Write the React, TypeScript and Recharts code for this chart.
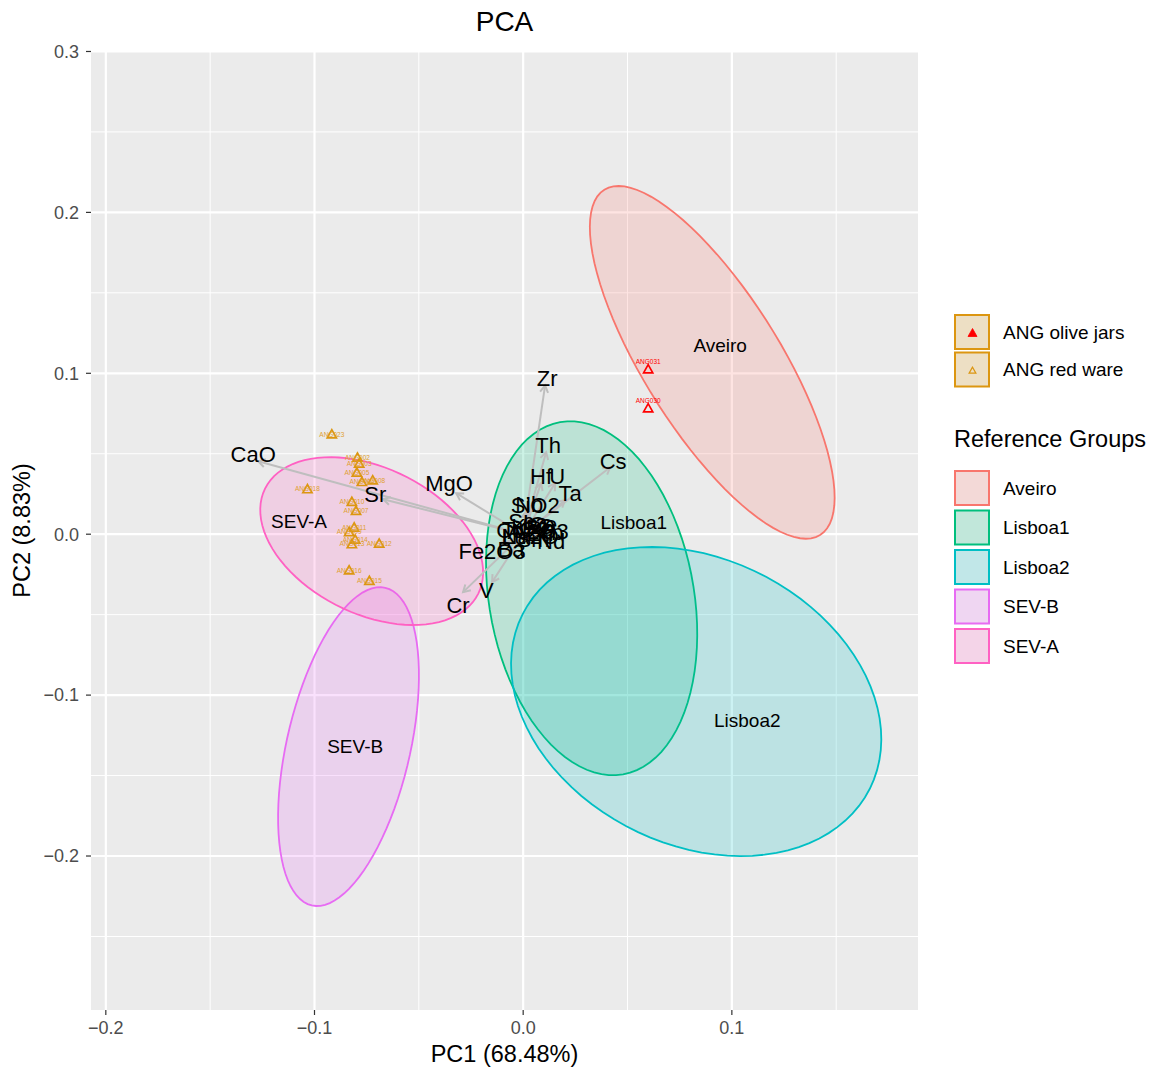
import React from "react";
import { ScatterChart, Scatter, XAxis, YAxis, CartesianGrid } from "recharts";

const FONT = '"Liberation Sans", Arial, Helvetica, sans-serif';

/* ── Axes ───────────────────────────────────────────── */

const xTicks = [-0.2, -0.1, 0, 0.1];
const yTicks = [-0.2, -0.1, 0, 0.1, 0.2, 0.3];
const xMinor = [-0.15, -0.05, 0.05, 0.15];
const yMinor = [-0.25, -0.15, -0.05, 0.05, 0.15, 0.25];
const xDomain = [-0.2071, 0.1892];
const yDomain = [-0.2957, 0.3003];

/* ── Reference groups: ellipse centre + two conjugate semi-axes (data units) ── */

const groupNames = ["Aveiro", "Lisboa1", "Lisboa2", "SEV-B", "SEV-A"];
const groupColors = ["#F8766D", "#00BF7D", "#00BFC4", "#E76BF3", "#FF61C3"];
const ellCx = [0.0906, 0.0328, 0.0829, -0.0837, -0.0726];
const ellCy = [0.1068, -0.0398, -0.104, -0.132, -0.0043];
const ellUx = [0.0517, 0.0151, 0.0832, -0.0176, 0.0511];
const ellUy = [-0.1073, -0.1094, -0.0542, -0.0987, -0.0326];
const ellVx = [-0.0277, -0.0483, -0.0308, -0.0288, -0.0155];
const ellVy = [-0.0224, -0.0111, -0.0793, 0.0086, -0.0407];
const groupLabelX = [0.0944, 0.053, 0.1074, -0.0805, -0.1074];
const groupLabelY = [0.1174, 0.0075, -0.1155, -0.1317, 0.0081];

/* ── Variable loadings (arrow tips) and their label positions ── */

const varNames = [
  "CaO", "Sr", "MgO", "Zr", "Th", "Hf", "U", "Ta", "Cs", "SiO2", "Nb",
  "TiO2", "Al2O3", "K2O", "Na2O", "Rb", "La", "Ce", "Nd", "Sm", "Yb",
  "Lu", "Eu", "Sc", "Co", "Fe2O3", "Ba", "Cr", "V",
];
const varX = [
  -0.127, -0.0671, -0.0321, 0.0105, 0.011, 0.0086, 0.0153, 0.0201, 0.0417, 0.0024, 0.0014,
  -0.001, 0.0019, 0.0024, 0.0019, 0.0048, 0.0034, 0.0067, 0.0077, 0.0034, 0.0091,
  -0.0029, 0.0058, -0.0005, -0.0038, -0.011, -0.0048, -0.0288, -0.0149,
];
const varY = [
  0.0453, 0.0217, 0.0255, 0.0925, 0.0509, 0.0317, 0.0317, 0.0211, 0.0416, 0.0137, 0.0143,
  0.0019, 0.0019, 0.0031, 0.0006, 0.0025, 0.005, 0.0043, -0.0019, -0.0012, 0.0006,
  0.0, 0.0012, 0.0056, 0.0019, -0.0068, -0.0056, -0.036, -0.0298,
];
const varLabelX = [
  -0.1294, -0.0709, -0.0355, 0.0115, 0.012, 0.0086, 0.0163, 0.0225, 0.0431, 0.0058, 0.0029,
  0.001, 0.0072, 0.0048, 0.0034, 0.0081, 0.0058, 0.0096, 0.0134, 0.0048, 0.0129,
  -0.0043, 0.0081, -0.001, -0.0062, -0.0149, -0.0058, -0.0312, -0.0177,
];
const varLabelY = [
  0.0497, 0.0248, 0.0317, 0.0969, 0.0553, 0.036, 0.036, 0.0255, 0.0453, 0.018, 0.0186,
  0.0031, 0.0019, 0.005, -0.0012, 0.0037, 0.0075, 0.0062, -0.0043, -0.0031, 0.0012,
  -0.0012, 0.0006, 0.0081, 0.0025, -0.0106, -0.0093, -0.0441, -0.0348,
];

/* ── ANG samples ──────────────────────────────────────── */

const redWareNames = [
  "ANG023", "ANG002", "ANG003", "ANG005", "ANG008", "ANG004", "ANG018", "ANG010",
  "ANG007", "ANG011", "ANG009", "ANG014", "ANG013", "ANG012", "ANG016", "ANG015",
];
const redWareX = [
  -0.0917, -0.0794, -0.0786, -0.0797, -0.0721, -0.0773, -0.1034, -0.0821,
  -0.0801, -0.081, -0.0834, -0.0805, -0.0821, -0.069, -0.0834, -0.0737,
];
const redWareY = [
  0.0621, 0.0476, 0.0439, 0.0383, 0.0335, 0.0325, 0.028, 0.0201,
  0.0145, 0.0042, 0.0014, -0.0033, -0.0062, -0.0058, -0.0224, -0.029,
];
const oliveNames = ["ANG031", "ANG030"];
const oliveX = [0.0599, 0.0599];
const oliveY = [0.1025, 0.0783];

/* ── Helpers ──────────────────────────────────────────── */

const ORANGE = "#DC9610";
const OLIVE_RED = "#FF0000";
const ARROW = "#BEBEBE";

const fmt = (v: number) => (v < 0 ? "\u2212" : "") + Math.abs(v).toFixed(1);

function ellipseData(i: number) {
  const pts: { x: number; y: number }[] = [];
  for (let k = 0; k <= 90; k++) {
    const t = (k / 90) * Math.PI * 2;
    pts.push({
      x: ellCx[i] + ellUx[i] * Math.cos(t) + ellVx[i] * Math.sin(t),
      y: ellCy[i] + ellUy[i] * Math.cos(t) + ellVy[i] * Math.sin(t),
    });
  }
  return pts;
}

const Blank = () => <g />;

function ellipseLine(color: string) {
  return (p: any) => {
    const pts = (p.points || []) as { x: number; y: number }[];
    const d = pts.map((q, k) => `${k ? "L" : "M"}${q.x},${q.y}`).join("") + "Z";
    return <path d={d} fill={color} fillOpacity={0.2} stroke={color} strokeWidth={1.8} />;
  };
}

// pairs of (origin, tip) -> the line renderer draws one arrow per pair
const arrowData = varNames.flatMap((_, i) => [
  { x: 0, y: 0 },
  { x: varX[i], y: varY[i] },
]);

function ArrowLines(p: any) {
  const pts = (p.points || []) as { x: number; y: number }[];
  const out: React.ReactNode[] = [];
  for (let i = 0; i + 1 < pts.length; i += 2) {
    const a = pts[i];
    const b = pts[i + 1];
    const ang = Math.atan2(b.y - a.y, b.x - a.x);
    const L = 8;
    const s = Math.PI / 6;
    const h1x = b.x - L * Math.cos(ang - s);
    const h1y = b.y - L * Math.sin(ang - s);
    const h2x = b.x - L * Math.cos(ang + s);
    const h2y = b.y - L * Math.sin(ang + s);
    out.push(
      <g key={i} stroke={ARROW} strokeWidth={2} fill="none">
        <line x1={a.x} y1={a.y} x2={b.x} y2={b.y} />
        <polyline points={`${h1x},${h1y} ${b.x},${b.y} ${h2x},${h2y}`} />
      </g>
    );
  }
  return <g>{out}</g>;
}

const tri = (cx: number, cy: number, r: number) =>
  `M${cx},${cy - r}L${cx - r},${cy + r * 0.78}L${cx + r},${cy + r * 0.78}Z`;

function RedWarePoint(p: any) {
  const { cx, cy, payload } = p;
  return (
    <g>
      <path d={tri(cx, cy, 4.6)} fill="none" stroke={ORANGE} strokeWidth={1.7} />
      <text x={cx} y={cy + 2.3} fontSize={6.5} fontFamily={FONT} textAnchor="middle" fill="#E0A030">
        {payload.name}
      </text>
    </g>
  );
}

function OlivePoint(p: any) {
  const { cx, cy, payload } = p;
  return (
    <g>
      <path d={tri(cx, cy, 4.6)} fill="none" stroke={OLIVE_RED} strokeWidth={1.7} />
      <text x={cx} y={cy - 5.2} fontSize={6.5} fontFamily={FONT} textAnchor="middle" fill={OLIVE_RED}>
        {payload.name}
      </text>
    </g>
  );
}

function VarLabel(p: any) {
  const { cx, cy, payload } = p;
  return (
    <text x={cx} y={cy + 7.9} fontSize={22} fontFamily={FONT} textAnchor="middle" fill="#000">
      {payload.name}
    </text>
  );
}

function GroupLabel(p: any) {
  const { cx, cy, payload } = p;
  return (
    <text x={cx} y={cy + 6.8} fontSize={19} fontFamily={FONT} textAnchor="middle" fill="#000">
      {payload.name}
    </text>
  );
}

/* ── Main ─────────────────────────────────────────────── */

export default function App() {
  const redWare = redWareNames.map((name, i) => ({ name, x: redWareX[i], y: redWareY[i] }));
  const olive = oliveNames.map((name, i) => ({ name, x: oliveX[i], y: oliveY[i] }));
  const varLabels = varNames.map((name, i) => ({ name, x: varLabelX[i], y: varLabelY[i] }));
  const groupLabels = groupNames.map((name, i) => ({ name, x: groupLabelX[i], y: groupLabelY[i] }));

  const tickStyle = { fill: "#4D4D4D", fontSize: 18, fontFamily: FONT };

  return (
    <div style={{ position: "absolute", left: 0, top: 0, width: 1161, height: 1074, background: "#fff" }}>
      <ScatterChart width={1161} height={1074} margin={{ top: 51, right: 243, bottom: 0, left: 0 }}>
        <CartesianGrid
          fill="#EBEBEB"
          stroke="#FFFFFF"
          strokeWidth={1}
          horizontalValues={yMinor}
          verticalValues={xMinor}
        />
        <CartesianGrid stroke="#FFFFFF" strokeWidth={2.2} horizontalValues={yTicks} verticalValues={xTicks} />
        <XAxis
          type="number"
          dataKey="x"
          domain={xDomain}
          allowDataOverflow
          ticks={xTicks}
          interval={0}
          tickFormatter={fmt}
          height={64}
          axisLine={false}
          tickLine={{ stroke: "#333333", strokeWidth: 1.2 }}
          tickSize={5}
          tickMargin={6}
          tick={tickStyle}
        />
        <YAxis
          type="number"
          dataKey="y"
          domain={yDomain}
          allowDataOverflow
          ticks={yTicks}
          interval={0}
          tickFormatter={fmt}
          width={91}
          axisLine={false}
          tickLine={{ stroke: "#333333", strokeWidth: 1.2 }}
          tickSize={5}
          tickMargin={7}
          tick={tickStyle}
        />

        {groupNames.map((g, i) => (
          <Scatter
            key={g}
            data={ellipseData(i)}
            line={ellipseLine(groupColors[i])}
            lineType="joint"
            shape={Blank}
            isAnimationActive={false}
          />
        ))}

        <Scatter data={arrowData} line={ArrowLines} lineType="joint" shape={Blank} isAnimationActive={false} />
        <Scatter data={redWare} shape={RedWarePoint} isAnimationActive={false} />
        <Scatter data={olive} shape={OlivePoint} isAnimationActive={false} />
        <Scatter data={varLabels} shape={VarLabel} isAnimationActive={false} />
        <Scatter data={groupLabels} shape={GroupLabel} isAnimationActive={false} />
      </ScatterChart>

      {/* Titles and legend */}
      <svg
        width={1161}
        height={1074}
        style={{ position: "absolute", left: 0, top: 0, pointerEvents: "none" }}
        fontFamily={FONT}
      >
        <text x={504.5} y={30.5} fontSize={28} textAnchor="middle" fill="#000">PCA</text>
        <text x={504.5} y={1062.4} fontSize={23.5} textAnchor="middle" fill="#000">PC1 (68.48%)</text>
        <text transform="translate(30.4,530.5) rotate(-90)" fontSize={23.5} textAnchor="middle" fill="#000">
          PC2 (8.83%)
        </text>

        {/* ANG keys */}
        {["ANG olive jars", "ANG red ware"].map((lab, i) => {
          const y = 315 + i * 37.5;
          return (
            <g key={lab}>
              <rect x={955} y={y} width={34} height={34} fill="#F2F2F2" />
              <rect x={955} y={y} width={34} height={34} fill={ORANGE} fillOpacity={0.2} stroke={ORANGE} strokeWidth={2} />
              {i === 0 ? (
                <path d={tri(972.5, y + 18, 4.5)} fill={OLIVE_RED} stroke={OLIVE_RED} strokeWidth={0.8} />
              ) : (
                <path d={tri(972.5, y + 18, 3.4)} fill="none" stroke={ORANGE} strokeWidth={1.2} />
              )}
              <text x={1003} y={y + 17 + 6.8} fontSize={19} fill="#000">{lab}</text>
            </g>
          );
        })}

        <text x={954} y={447.4} fontSize={23.5} fill="#000">Reference Groups</text>

        {groupNames.map((g, i) => {
          const y = 471 + i * 39.5;
          return (
            <g key={g}>
              <rect x={955} y={y} width={34} height={34} fill="#F2F2F2" />
              <rect
                x={955}
                y={y}
                width={34}
                height={34}
                fill={groupColors[i]}
                fillOpacity={0.2}
                stroke={groupColors[i]}
                strokeWidth={2}
              />
              <text x={1003} y={y + 17 + 6.8} fontSize={19} fill="#000">{g}</text>
            </g>
          );
        })}
      </svg>
    </div>
  );
}
